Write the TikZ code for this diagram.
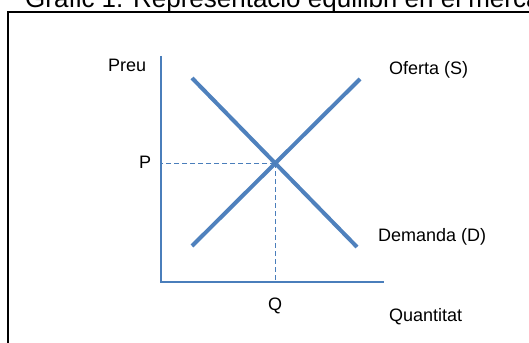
\documentclass[tikz,border=0pt]{standalone}
\usepackage{fontspec}
\setmainfont{Liberation Sans}
\usetikzlibrary{positioning}
\definecolor{axisblue}{HTML}{4A7EBB}
\definecolor{curveblue}{HTML}{4F81BD}

\begin{document}
\begin{tikzpicture}[x=1pt, y=-1pt,
  lbl/.style={inner sep=0pt, anchor=base west, font=\fontsize{18}{21}\selectfont},
  curve/.style={curveblue, line width=4pt},
  guide/.style={axisblue, line width=1pt, dash pattern=on 5pt off 3pt}]
  \useasboundingbox (0,0) rectangle (529,342);
  \clip (0,0) rectangle (529,342);
  % Title, cut off by the page
  \node[inner sep=0pt, anchor=base west, font=\fontsize{26}{30}\selectfont] (title) at (25,8) {Gràfic 1. Representació equilibri en el mercat};
  % Frame
  \draw[line width=2pt] (8,360) -- (8,12) -- (560,12);

  % Axes
  \coordinate (origin) at (161,282);
  \coordinate (ytop) at (161,56);
  \coordinate (xend) at (384,282);
  \draw[axisblue, line width=1.3pt] (ytop) -- (origin) -- (xend);

  % Supply and demand
  \coordinate (s0) at (192,246);
  \coordinate (s1) at (360,79);
  \coordinate (d0) at (192,78);
  \coordinate (d1) at (357,247);
  \draw[curve] (s0) -- (s1);
  \draw[curve] (d0) -- (d1);

  % Equilibrium
  \coordinate (eq) at (intersection of s0--s1 and d0--d1);
  \draw[guide] (eq) -- (eq -| origin);
  \draw[guide] (eq) -- (eq |- origin);

  % Labels
  \node[lbl] (preu) at (108,72) {Preu};
  \node[lbl] (plab) at (139,168) {P};
  \node[lbl] (qlab) at (268,310) {Q};
  \node[lbl] (oferta) at (389,75) {Oferta (S)};
  \node[lbl] (demanda) at (378,241) {Demanda (D)};
  \node[lbl] (quant) at (389,321) {Quantitat};
\end{tikzpicture}
\end{document}
